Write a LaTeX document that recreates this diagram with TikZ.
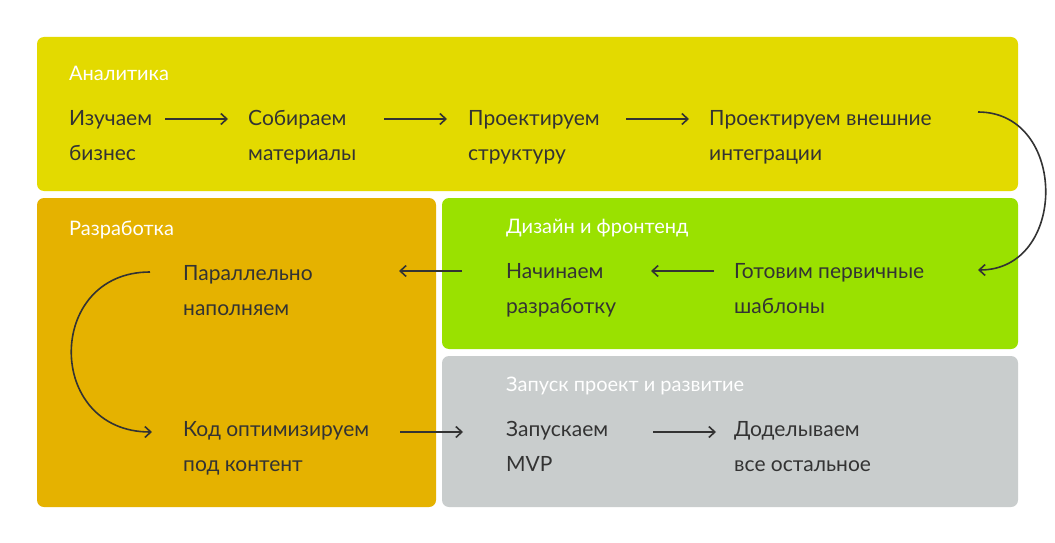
\documentclass[tikz,border=0pt]{standalone}
\usepackage{fontspec}
\setmainfont{Lato}
\usetikzlibrary{arrows.meta,positioning}
\definecolor{cYellow}{HTML}{E3DA00}
\definecolor{cOrange}{HTML}{E5B200}
\definecolor{cGreen}{HTML}{9AE100}
\definecolor{cGray}{HTML}{C9CDCD}
\definecolor{cText}{HTML}{333333}
\begin{document}
\begin{tikzpicture}[x=1pt,y=-1pt,
  panel/.style={rounded corners=7pt},
  title/.style={anchor=north west, inner sep=0pt, text=white, font=\fontsize{20}{24}\selectfont},
  stage/.style={anchor=north west, inner sep=0pt, align=left, text=cText, font=\fontsize{21}{35}\selectfont},
  arr/.style={-{Straight Barb[length=6pt,width=11pt]}, line width=1.6pt, cText}]
\useasboundingbox (0,0) rectangle (1055,543);
\fill[white] (0,0) rectangle (1055,543);
% panels
\fill[panel, cYellow] (37,37) rectangle (1018,191);
\fill[panel, cOrange] (37,198) rectangle (436,507);
\fill[panel, cGreen] (442,198) rectangle (1018,349);
\fill[panel, cGray] (442,356) rectangle (1018,507);
% titles
\node[title] (tAn) at (69,66) {Аналитика};
\node[title] (tRa) at (69,221) {Разработка};
\node[title] (tDe) at (506,219) {Дизайн и фронтенд};
\node[title] (tZa) at (506,377) {Запуск проект и развитие};
% stages
\node[stage] (izu) at (69,110) {Изучаем\\бизнес};
\node[stage] (sob) at (248,110) {Собираем\\материалы};
\node[stage] (str) at (468,110) {Проектируем\\структуру};
\node[stage] (vne) at (709,110) {Проектируем внешние\\интеграции};
\node[stage] (got) at (734,263) {Готовим первичные\\шаблоны};
\node[stage] (nac) at (506,263) {Начинаем\\разработку};
\node[stage] (par) at (183,265) {Параллельно\\наполняем};
\node[stage] (kod) at (183,421) {Код оптимизируем\\под контент};
\node[stage] (zap) at (506,421) {Запускаем\\MVP};
\node[stage] (dod) at (734,421) {Доделываем\\все остальное};
% connectors
\draw[arr] ([shift={(96,9)}]izu.north west) -- ([shift={(-20,9)}]sob.north west);
\draw[arr] ([shift={(136,9)}]sob.north west) -- ([shift={(-21,9)}]str.north west);
\draw[arr] ([shift={(158,9)}]str.north west) -- ([shift={(-20,9)}]vne.north west);
\draw[arr] ([shift={(269,2)}]vne.north west) .. controls (1068,112) and (1068,270) .. ([shift={(244,7)}]got.north west);
\draw[arr] ([shift={(-20,8)}]got.north west) -- ([shift={(145,8)}]nac.north west);
\draw[arr] ([shift={(-44,8)}]nac.north west) -- ([shift={(216,6)}]par.north west);
\draw[arr] ([shift={(-33,7)}]par.north west) .. controls (45,272) and (45,432) .. ([shift={(-31,11)}]kod.north west);
\draw[arr] ([shift={(217,11)}]kod.north west) -- ([shift={(-43,11)}]zap.north west);
\draw[arr] ([shift={(147,11)}]zap.north west) -- ([shift={(-18,11)}]dod.north west);
\end{tikzpicture}
\end{document}
